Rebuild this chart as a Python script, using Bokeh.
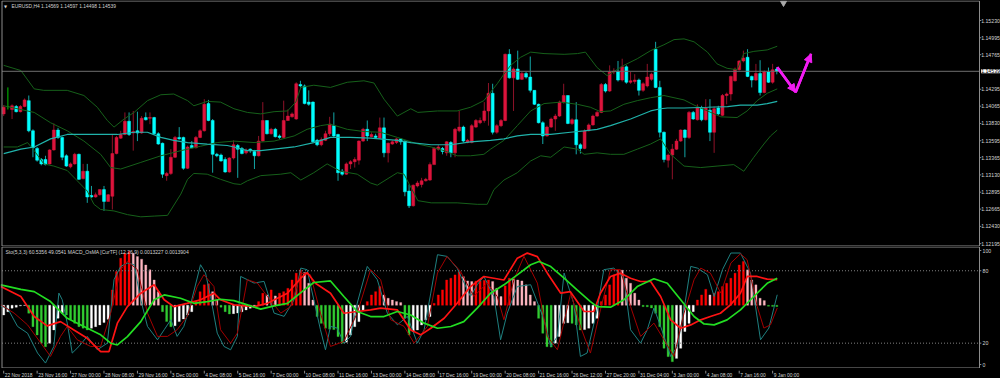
from bokeh.plotting import figure
from bokeh.models import (Range1d, Label, Arrow, NormalHead, ColumnDataSource)
from bokeh.layouts import column
from bokeh.embed import file_html
from bokeh.resources import INLINE
from bokeh.core.properties import value

# ---------------- data (EURUSD H4) ----------------
open_ = [1.1396, 1.1406, 1.1402, 1.1406, 1.1399, 1.1406, 1.1414, 1.1373, 1.1349, 1.1334,
         1.1334, 1.1328, 1.1347, 1.1374, 1.1364, 1.1339, 1.1324, 1.1328, 1.1341, 1.1308,
         1.1318, 1.1285, 1.1283, 1.1286, 1.1293, 1.1277, 1.1284, 1.1342, 1.1363, 1.1368,
         1.1386, 1.1370, 1.1373, 1.1370, 1.1391, 1.1390, 1.1391, 1.1369, 1.1356, 1.1312,
         1.1315, 1.1337, 1.1364, 1.1364, 1.1322, 1.1353, 1.1350, 1.1364, 1.1373, 1.1410,
         1.1387, 1.1341, 1.1340, 1.1334, 1.1317, 1.1336, 1.1353, 1.1349, 1.1343, 1.1348,
         1.1345, 1.1339, 1.1359, 1.1387, 1.1369, 1.1375, 1.1366, 1.1364, 1.1387, 1.1392,
         1.1389, 1.1436, 1.1434, 1.1412, 1.1412, 1.1360, 1.1354, 1.1360, 1.1369, 1.1380,
         1.1368, 1.1318, 1.1314, 1.1328, 1.1331, 1.1333, 1.1359, 1.1375, 1.1365, 1.1366,
         1.1363, 1.1377, 1.1343, 1.1355, 1.1357, 1.1362, 1.1359, 1.1291, 1.1271, 1.1298,
         1.1300, 1.1305, 1.1306, 1.1327, 1.1348, 1.1349, 1.1343, 1.1357, 1.1343, 1.1373,
         1.1378, 1.1357, 1.1357, 1.1378, 1.1384, 1.1387, 1.1400, 1.1424, 1.1371, 1.1380,
         1.1387, 1.1477, 1.1445, 1.1457, 1.1443, 1.1451, 1.1446, 1.1428, 1.1409, 1.1384,
         1.1366, 1.1378, 1.1389, 1.1393, 1.1412, 1.1421, 1.1383, 1.1388, 1.1354, 1.1349,
         1.1373, 1.1381, 1.1393, 1.1398, 1.1436, 1.1427, 1.1453, 1.1454, 1.1442, 1.1460,
         1.1439, 1.1440, 1.1442, 1.1428, 1.1434, 1.1443, 1.1484, 1.1432, 1.1371, 1.1333,
         1.1340, 1.1348, 1.1359, 1.1374, 1.1364, 1.1398, 1.1388, 1.1404, 1.1388, 1.1401,
         1.1371, 1.1404, 1.1394, 1.1421, 1.1423, 1.1441, 1.1456, 1.1468, 1.1473, 1.1447,
         1.1442, 1.1451, 1.1425, 1.1453, 1.1439, 1.14569]
high = [1.1408, 1.1432, 1.1409, 1.1408, 1.1408, 1.1417, 1.1421, 1.1375, 1.1351, 1.1336,
        1.1339, 1.1348, 1.1383, 1.1377, 1.1365, 1.1341, 1.1330, 1.1343, 1.1342, 1.1328,
        1.1328, 1.1298, 1.1289, 1.1293, 1.1298, 1.1287, 1.1368, 1.1366, 1.1373, 1.1398,
        1.1398, 1.1400, 1.1399, 1.1393, 1.1398, 1.1398, 1.1392, 1.1371, 1.1357, 1.1317,
        1.1348, 1.1366, 1.1378, 1.1365, 1.1353, 1.1359, 1.1366, 1.1375, 1.1416, 1.1415,
        1.1389, 1.1343, 1.1342, 1.1337, 1.1337, 1.1360, 1.1355, 1.1351, 1.1349, 1.1349,
        1.1347, 1.1366, 1.1412, 1.1387, 1.1377, 1.1377, 1.1368, 1.1414, 1.1402, 1.1398,
        1.1439, 1.1441, 1.1436, 1.1428, 1.1413, 1.1362, 1.1364, 1.1373, 1.1392, 1.1398,
        1.1369, 1.1321, 1.1330, 1.1333, 1.1337, 1.1360, 1.1377, 1.1387, 1.1371, 1.1369,
        1.1391, 1.1391, 1.1357, 1.1360, 1.1363, 1.1363, 1.1360, 1.1300, 1.1300, 1.1305,
        1.1309, 1.1309, 1.1330, 1.1351, 1.1354, 1.1351, 1.1359, 1.1359, 1.1377, 1.1400,
        1.1380, 1.1362, 1.1382, 1.1389, 1.1391, 1.1412, 1.1438, 1.1437, 1.1382, 1.1389,
        1.1478, 1.1484, 1.1459, 1.1482, 1.1453, 1.1453, 1.1474, 1.1428, 1.1410, 1.1386,
        1.1380, 1.1391, 1.1396, 1.1414, 1.1437, 1.1421, 1.1390, 1.1412, 1.1356, 1.1375,
        1.1383, 1.1395, 1.1400, 1.1438, 1.1438, 1.1462, 1.1458, 1.1468, 1.1471, 1.1462,
        1.1453, 1.1450, 1.1444, 1.1439, 1.1464, 1.1452, 1.1494, 1.1441, 1.1372, 1.1342,
        1.1355, 1.1362, 1.1375, 1.1375, 1.1400, 1.1400, 1.1409, 1.1407, 1.1416, 1.1416,
        1.1406, 1.1407, 1.1423, 1.1425, 1.1448, 1.1459, 1.1469, 1.1482, 1.1484, 1.1448,
        1.1464, 1.1469, 1.1455, 1.1459, 1.1464, 1.14597]
low = [1.1393, 1.1402, 1.1389, 1.1398, 1.1398, 1.1405, 1.1371, 1.1337, 1.1331, 1.1326,
       1.1326, 1.1327, 1.1346, 1.1362, 1.1333, 1.1324, 1.1322, 1.1327, 1.1306, 1.1307,
       1.1275, 1.1282, 1.1282, 1.1285, 1.1264, 1.1277, 1.1266, 1.1341, 1.1362, 1.1367,
       1.1366, 1.1346, 1.1359, 1.1369, 1.1387, 1.1382, 1.1368, 1.1354, 1.1309, 1.1305,
       1.1313, 1.1336, 1.1361, 1.1320, 1.1321, 1.1349, 1.1349, 1.1363, 1.1372, 1.1386,
       1.1316, 1.1337, 1.1331, 1.1316, 1.1316, 1.1334, 1.1309, 1.1341, 1.1341, 1.1343,
       1.1321, 1.1338, 1.1358, 1.1368, 1.1368, 1.1364, 1.1362, 1.1363, 1.1387, 1.1391,
       1.1388, 1.1432, 1.1409, 1.1407, 1.1357, 1.1352, 1.1352, 1.1359, 1.1366, 1.1364,
       1.1305, 1.1312, 1.1313, 1.1321, 1.1323, 1.1327, 1.1358, 1.1359, 1.1364, 1.1362,
       1.1362, 1.1337, 1.1330, 1.1354, 1.1355, 1.1354, 1.1284, 1.1268, 1.1270, 1.1296,
       1.1296, 1.1304, 1.1305, 1.1327, 1.1346, 1.1341, 1.1339, 1.1337, 1.1337, 1.1371,
       1.1357, 1.1356, 1.1356, 1.1377, 1.1382, 1.1384, 1.1380, 1.1368, 1.1369, 1.1378,
       1.1386, 1.1444, 1.1400, 1.1442, 1.1442, 1.1444, 1.1425, 1.1408, 1.1383, 1.1355,
       1.1365, 1.1377, 1.1373, 1.1392, 1.1410, 1.1382, 1.1381, 1.1341, 1.1342, 1.1348,
       1.1372, 1.1380, 1.1392, 1.1397, 1.1425, 1.1426, 1.1450, 1.1440, 1.1440, 1.1437,
       1.1437, 1.1437, 1.1421, 1.1426, 1.1432, 1.1441, 1.1431, 1.1364, 1.1330, 1.1323,
       1.1307, 1.1347, 1.1358, 1.1337, 1.1362, 1.1388, 1.1387, 1.1386, 1.1387, 1.1359,
       1.1343, 1.1394, 1.1393, 1.1409, 1.1414, 1.1440, 1.1455, 1.1466, 1.1446, 1.1432,
       1.1441, 1.1421, 1.1424, 1.1438, 1.1437, 1.14498]
close = [1.1405, 1.1406, 1.1407, 1.1399, 1.1406, 1.1415, 1.1373, 1.1350, 1.1333, 1.1328,
         1.1327, 1.1347, 1.1374, 1.1364, 1.1337, 1.1325, 1.1328, 1.1341, 1.1307, 1.1318,
         1.1283, 1.1283, 1.1286, 1.1293, 1.1277, 1.1286, 1.1342, 1.1364, 1.1368, 1.1386,
         1.1368, 1.1372, 1.1370, 1.1390, 1.1388, 1.1391, 1.1369, 1.1355, 1.1314, 1.1315,
         1.1337, 1.1364, 1.1362, 1.1322, 1.1351, 1.1350, 1.1364, 1.1373, 1.1409, 1.1387,
         1.1341, 1.1339, 1.1332, 1.1317, 1.1336, 1.1354, 1.1348, 1.1342, 1.1347, 1.1346,
         1.1339, 1.1359, 1.1387, 1.1369, 1.1375, 1.1365, 1.1364, 1.1387, 1.1393, 1.1396,
         1.1437, 1.1434, 1.1410, 1.1409, 1.1358, 1.1354, 1.1361, 1.1369, 1.1382, 1.1366,
         1.1316, 1.1314, 1.1328, 1.1331, 1.1334, 1.1359, 1.1375, 1.1366, 1.1368, 1.1364,
         1.1377, 1.1343, 1.1356, 1.1358, 1.1362, 1.1358, 1.1290, 1.1271, 1.1299, 1.1302,
         1.1305, 1.1307, 1.1327, 1.1349, 1.1351, 1.1345, 1.1358, 1.1343, 1.1375, 1.1378,
         1.1359, 1.1360, 1.1380, 1.1387, 1.1387, 1.1400, 1.1424, 1.1371, 1.1380, 1.1387,
         1.1477, 1.1445, 1.1457, 1.1443, 1.1451, 1.1446, 1.1428, 1.1409, 1.1384, 1.1366,
         1.1378, 1.1389, 1.1393, 1.1412, 1.1421, 1.1383, 1.1388, 1.1354, 1.1349, 1.1373,
         1.1381, 1.1393, 1.1398, 1.1436, 1.1427, 1.1453, 1.1454, 1.1442, 1.1460, 1.1439,
         1.1441, 1.1442, 1.1428, 1.1437, 1.1446, 1.1450, 1.1432, 1.1371, 1.1334, 1.1340,
         1.1348, 1.1359, 1.1374, 1.1364, 1.1398, 1.1389, 1.1404, 1.1388, 1.1404, 1.1371,
         1.1403, 1.1396, 1.1421, 1.1423, 1.1447, 1.1457, 1.1468, 1.1472, 1.1447, 1.1442,
         1.1451, 1.1425, 1.1453, 1.1439, 1.1456, 1.14539]

# Bollinger bands and moving average, read at sample bars
bb_up_x = [0, 4.1, 7.3, 9.6, 15.2, 19.2, 22.4, 24.8, 26.4, 28.8, 31.2, 34.4, 37.6, 40.7, 44.0,
           45.5, 48.7, 51.9, 55.1, 58.3, 61.5, 64.7, 67.9, 69.9, 71.1, 74.2, 78.2, 82.2, 86.2,
           88.6, 91.0, 94.2, 97.4, 99.1, 103.8, 108.5, 111.7, 114.9, 118.1, 119.7, 121.3, 123.7,
           126.1, 129.3, 134.1, 137.3, 139.2, 142.0, 144.4, 148.4, 151.6, 154.8, 158.0, 160.4,
           162.8, 165.2, 168.4, 170.7, 173.1, 175.5, 177.1, 179.5, 182.7, 185.1]
bb_up = [1.1462, 1.1455, 1.1430, 1.1428, 1.1428, 1.1421, 1.1405, 1.1387, 1.1378, 1.1389,
         1.1398, 1.1414, 1.1422, 1.1423, 1.1414, 1.1407, 1.1413, 1.1412, 1.1403, 1.1398,
         1.1396, 1.1399, 1.1400, 1.1412, 1.1432, 1.1435, 1.1432, 1.1439, 1.1441, 1.1438,
         1.1416, 1.1393, 1.1403, 1.1398, 1.1400, 1.1400, 1.1405, 1.1414, 1.1437, 1.1450,
         1.1462, 1.1473, 1.1480, 1.1478, 1.1477, 1.1478, 1.1480, 1.1459, 1.1448, 1.1462,
         1.1471, 1.1482, 1.1490, 1.1497, 1.1498, 1.1494, 1.1480, 1.1464, 1.1458, 1.1456,
         1.1478, 1.1481, 1.1483, 1.1488]
bb_mid_x = [0, 7.3, 11.2, 15.2, 19.2, 23.2, 25.6, 28.0, 32.8, 37.6, 42.4, 47.1, 51.1, 55.1,
            59.9, 64.7, 69.5, 72.6, 75.8, 78.2, 82.2, 86.2, 90.2, 94.2, 99.1, 102.3, 105.4,
            108.5, 111.7, 114.9, 116.5, 119.7, 122.9, 126.1, 129.3, 133.3, 137.3, 140.4, 142.8,
            145.2, 148.4, 151.6, 154.8, 158.0, 160.4, 162.8, 165.2, 168.4, 171.6, 175.5, 177.9,
            180.3, 182.7, 185.1]
bb_mid = [1.1407, 1.1398, 1.1384, 1.1373, 1.1359, 1.1341, 1.1323, 1.1321, 1.1330, 1.1339,
          1.1346, 1.1352, 1.1357, 1.1359, 1.1357, 1.1359, 1.1366, 1.1375, 1.1380, 1.1382,
          1.1375, 1.1372, 1.1371, 1.1364, 1.1355, 1.1351, 1.1346, 1.1339, 1.1339, 1.1341,
          1.1348, 1.1360, 1.1380, 1.1400, 1.1410, 1.1412, 1.1409, 1.1405, 1.1399, 1.1400,
          1.1409, 1.1414, 1.1418, 1.1421, 1.1418, 1.1415, 1.1408, 1.1400, 1.1392, 1.1391,
          1.1400, 1.1414, 1.1424, 1.1430]
bb_lo_x = [0, 3.3, 5.7, 7.3, 9.6, 12.0, 15.2, 17.6, 20.0, 21.6, 23.2, 26.4, 29.6, 32.8, 36.0,
           39.2, 42.4, 44.0, 45.5, 48.7, 51.9, 55.1, 56.7, 58.3, 61.5, 66.3, 68.7, 71.1, 74.2,
           77.4, 80.6, 84.6, 87.8, 89.4, 94.2, 95.8, 99.1, 102.3, 108.5, 113.3, 115.7, 117.3,
           119.7, 122.9, 126.1, 128.5, 130.9, 134.1, 137.3, 138.9, 142.0, 145.2, 148.4, 151.6,
           154.8, 157.2, 159.6, 162.8, 166.8, 170.7, 174.7, 177.1, 179.5, 181.9, 183.5, 185.1]
bb_lo = [1.1351, 1.1351, 1.1357, 1.1346, 1.1328, 1.1325, 1.1319, 1.1305, 1.1291, 1.1273,
         1.1266, 1.1264, 1.1259, 1.1256, 1.1257, 1.1258, 1.1287, 1.1307, 1.1315, 1.1314,
         1.1307, 1.1301, 1.1300, 1.1305, 1.1312, 1.1314, 1.1316, 1.1306, 1.1316, 1.1328,
         1.1318, 1.1314, 1.1302, 1.1299, 1.1316, 1.1314, 1.1278, 1.1275, 1.1275, 1.1273,
         1.1273, 1.1293, 1.1306, 1.1316, 1.1332, 1.1339, 1.1337, 1.1351, 1.1348, 1.1341,
         1.1343, 1.1341, 1.1341, 1.1348, 1.1355, 1.1362, 1.1341, 1.1325, 1.1323, 1.1325,
         1.1327, 1.1318, 1.1337, 1.1355, 1.1366, 1.1374]
ma_x = [0, 4.1, 7.3, 11.2, 15.2, 19.2, 23.2, 27.2, 31.2, 34.4, 37.6, 40.7, 44.0, 48.7, 53.5,
        55.1, 58.3, 61.5, 64.7, 69.5, 74.2, 78.2, 82.9, 87.8, 94.2, 97.4, 102.3, 107.0, 111.7,
        116.5, 119.7, 122.9, 126.1, 130.9, 135.6, 138.9, 142.0, 145.2, 150.0, 154.8, 157.2,
        158.8, 162.8, 168.4, 173.2, 176.3, 180.3, 182.7, 185.1]
ma = [1.1342, 1.1348, 1.1351, 1.1362, 1.1368, 1.1368, 1.1368, 1.1368, 1.1371, 1.1371,
      1.1364, 1.1360, 1.1357, 1.1355, 1.1353, 1.1351, 1.1346, 1.1346, 1.1348, 1.1351,
      1.1357, 1.1364, 1.1364, 1.1363, 1.1360, 1.1357, 1.1354, 1.1354, 1.1358, 1.1360,
      1.1362, 1.1366, 1.1368, 1.1368, 1.1371, 1.1373, 1.1375, 1.1380, 1.1389, 1.1400,
      1.1403, 1.1404, 1.1404, 1.1405, 1.1406, 1.1408, 1.1408, 1.1410, 1.1413]

# MACD_OsMA (12,26,9), in pips (1e-4)
osma_pips = [-5.0, -3.3, -1.5, -1.0, -0.3, -0.1, -4.1, -11.0, -15.3, -19.5,
             -21.3, -19.5, -12.7, -6.7, -4.1, -5.0, -7.5, -9.3, -11.0, -11.8,
             -12.7, -11.8, -11.0, -10.1, -8.9, -7.2, 7.9, 17.3, 24.2, 26.7,
             27.6, 26.7, 25.0, 23.7, 20.7, 18.2, 13.0, 7.0, -3.3, -8.4,
             -11.0, -10.5, -8.4, -7.0, -5.0, -3.3, 1.9, 7.0, 10.5, 11.0,
             7.0, 2.7, -1.0, -3.3, -4.5, -4.3, -4.0, -3.3, -2.4, -1.5,
             -1.0, 1.9, 6.2, 5.3, 7.9, 4.8, 6.2, 7.0, 8.7, 13.0,
             16.5, 18.2, 16.8, 11.3, 2.7, -5.8, -9.3, -11.8, -12.3, -12.5,
             -16.1, -19.5, -19.0, -15.3, -11.0, -8.4, -2.4, 1.9, 5.3, 7.0,
             9.6, 5.3, 3.6, 2.7, 1.9, 1.4, -6.7, -15.3, -13.5, -12.7,
             -10.1, -7.5, -5.8, 1.0, 5.3, 7.9, 13.0, 13.9, 15.6, 17.3,
             14.7, 12.5, 12.2, 12.4, 12.6, 12.8, 13.0, 12.2, 8.7, 4.5,
             10.0, 13.9, 13.5, 13.0, 12.5, 10.5, 5.3, 1.9, -6.7, -14.4,
             -21.3, -21.5, -19.5, -16.1, -9.3, -9.0, -9.3, -10.1, -12.7, -12.5,
             -11.8, -9.3, -6.7, 1.9, 5.3, 10.5, 15.6, 18.2, 18.0, 13.9,
             11.3, 6.2, 2.7, -0.7, -0.8, -1.4, -4.1, -11.0, -22.1, -26.4,
             -29.0, -27.3, -22.1, -13.5, -9.3, -3.3, 2.7, 5.3, 8.2, 5.3,
             6.2, 7.0, 9.6, 11.3, 13.9, 16.5, 20.7, 22.5, 18.2, 13.0,
             10.5, 3.6, 2.4, -0.5, -0.6, -0.7]
macd_x = [-0.7, 4.1, 7.3, 10.4, 13.6, 16.8, 20.0, 23.2, 25.2, 27.2,
          29.6, 32.8, 36.0, 38.4, 40.7, 43.9, 47.1, 50.3, 51.9, 55.1,
          59.9, 63.1, 67.9, 71.1, 72.6, 74.6, 78.2, 81.4, 84.6, 87.8,
          90.2, 94.2, 97.4, 99.8, 102.2, 105.4, 108.5, 111.7, 114.9, 117.3,
          119.7, 122.9, 125.3, 127.7, 130.1, 133.3, 135.6, 138.9, 141.2, 142.8,
          145.2, 147.6, 150.0, 152.4, 154.8, 157.2, 159.6, 162.0, 164.4, 166.8,
          169.1, 171.5, 173.9, 176.3, 177.9, 180.3, 182.7, 185.1]
macd_pips = [9.6, 4.5, -5.8, -10.6, -8.4, -12.7, -17.0, -23.8, -23.8, -9.2,
             -0.7, 6.2, 10.5, 2.8, -0.7, 1.0, 2.8, 6.2, 2.8, 0.2,
             -0.7, 1.0, 6.2, 13.9, 16.8, 11.3, 6.2, -4.1, -3.2, -2.4,
             -1.5, -2.4, -12.7, -15.2, -11.8, -6.7, 1.0, 9.6, 14.8, 13.9,
             13.0, 24.2, 26.8, 25.0, 16.5, 6.2, 7.0, -3.2, -3.2, 6.2,
             14.8, 16.5, 13.9, 12.2, 12.2, 4.5, -7.5, -11.8, -10.1, -7.5,
             -5.8, -4.1, 0.2, 6.2, 14.8, 14.8, 13.4, 13.2]
sig_x = [-0.7, 4.1, 7.3, 11.2, 15.2, 19.2, 23.2, 25.6, 27.2, 29.6,
         32.8, 36.0, 38.4, 42.3, 45.5, 48.7, 51.9, 55.1, 58.3, 61.5,
         64.7, 67.9, 71.1, 74.2, 78.2, 81.4, 84.6, 87.8, 91.0, 94.2,
         97.4, 100.6, 103.8, 107.0, 110.1, 113.3, 116.5, 119.7, 122.9, 126.1,
         128.1, 130.9, 134.1, 137.2, 140.4, 142.0, 145.2, 148.4, 151.6, 155.6,
         158.8, 162.0, 165.2, 167.6, 170.0, 173.1, 176.3, 179.5, 182.7, 185.1]
sig_pips = [10.5, 8.2, 7.0, 1.9, -6.7, -10.9, -15.2, -19.5, -20.4, -16.1,
            -8.4, 2.8, 5.3, 3.6, 1.0, 1.9, 3.1, 2.4, 0.2, -2.0,
            -0.3, 1.0, 6.5, 11.7, 12.5, 4.5, -3.2, -5.8, -5.8, -3.2,
            -5.0, -9.2, -11.8, -10.9, -8.4, -1.5, 6.2, 10.5, 15.6, 20.8,
            22.5, 19.9, 13.9, 7.9, 1.9, -0.7, -1.0, 2.8, 9.6, 13.6,
            11.3, 2.8, -5.8, -9.6, -10.1, -7.5, -2.4, 4.5, 11.3, 13.9]

# Stochastic (5,3,3)
stk_x = [-0.7, 0.9, 3.3, 5.7, 8.1, 10.0, 12.0, 13.2, 14.0, 15.2,
         16.4, 18.0, 20.0, 22.4, 24.8, 26.4, 28.0, 29.6, 31.2, 32.8,
         34.4, 36.8, 38.4, 40.0, 41.5, 43.1, 44.7, 47.1, 48.3, 49.5,
         51.1, 52.7, 54.3, 55.9, 56.7, 58.3, 59.9, 62.3, 64.7, 67.1,
         69.5, 71.1, 72.6, 74.2, 75.8, 77.0, 78.2, 79.8, 81.4, 83.0,
         84.6, 87.0, 89.4, 91.8, 94.2, 96.6, 99.0, 100.6, 102.2, 103.8,
         106.1, 108.5, 111.7, 113.3, 114.9, 117.3, 118.9, 120.5, 122.9, 126.1,
         129.3, 130.9, 132.5, 134.1, 136.4, 138.0, 139.6, 142.0, 143.6, 146.0,
         148.4, 150.0, 152.4, 154.0, 155.6, 157.2, 159.6, 161.2, 162.8, 164.4,
         166.0, 168.4, 170.0, 172.0, 174.0, 176.3, 178.7, 181.1, 183.1, 185.1]
stk = [50.4, 49.1, 33.9, 28.3, 11.8, 3.5, 17.3, 61.5, 56.0, 36.6,
       11.8, 17.3, 25.6, 14.5, 20.0, 72.6, 83.6, 86.4, 85.0, 56.0,
       33.9, 22.8, 31.1, 39.4, 25.6, 33.9, 51.8, 85.0, 78.1, 58.7,
       28.3, 17.3, 14.5, 25.6, 75.3, 72.6, 69.8, 71.2, 44.9, 42.2,
       56.0, 82.2, 80.9, 56.0, 31.1, 14.5, 33.9, 32.5, 20.0, 25.6,
       53.2, 83.6, 72.6, 44.9, 35.2, 42.2, 20.0, 31.1, 61.5, 93.3,
       91.9, 82.2, 58.7, 68.4, 75.3, 58.7, 22.8, 44.9, 67.0, 68.4,
       39.4, 17.3, 25.6, 78.1, 53.2, 9.0, 11.8, 47.7, 80.9, 82.2,
       73.9, 31.1, 20.0, 31.1, 49.1, 33.9, 9.0, 17.3, 47.7, 83.6,
       82.2, 76.7, 58.7, 80.9, 94.7, 94.7, 78.1, 22.8, 32.5, 60.1]
std_x = [-0.7, 2.5, 5.7, 8.9, 11.2, 13.6, 15.2, 17.6, 20.8, 23.2,
         25.6, 28.0, 29.6, 32.0, 34.4, 36.8, 39.2, 41.5, 43.9, 46.3,
         47.9, 50.3, 51.9, 54.3, 55.9, 58.3, 60.7, 63.1, 66.3, 68.7,
         71.1, 73.4, 75.8, 78.2, 81.4, 84.6, 87.8, 90.2, 92.6, 95.8,
         98.2, 101.4, 103.8, 106.1, 109.3, 112.5, 115.7, 118.1, 119.7, 122.1,
         124.5, 127.7, 130.1, 132.5, 135.7, 138.0, 140.4, 142.8, 145.2, 147.6,
         150.0, 152.4, 155.6, 158.0, 160.4, 162.8, 165.2, 166.8, 169.1, 171.6,
         174.0, 176.3, 177.9, 180.3, 181.9, 183.5, 185.1]
std = [51.8, 44.9, 35.2, 20.0, 9.0, 25.6, 33.9, 22.8, 17.3, 17.3,
       44.9, 80.9, 87.8, 80.9, 44.9, 25.6, 25.6, 31.1, 42.2, 67.0,
       76.7, 67.0, 31.1, 20.0, 28.3, 72.6, 69.8, 58.7, 44.9, 50.4,
       78.1, 76.7, 44.9, 17.3, 21.4, 44.9, 80.9, 72.6, 39.4, 33.9,
       20.0, 33.9, 78.1, 91.9, 79.5, 58.7, 69.8, 58.7, 39.4, 72.6,
       91.9, 69.8, 25.6, 14.5, 61.5, 33.9, 11.8, 47.7, 80.9, 80.9,
       50.4, 25.6, 36.6, 22.8, 9.0, 44.9, 72.6, 82.2, 78.1, 61.5,
       86.4, 94.1, 89.1, 50.4, 32.5, 35.2, 49.1]
stoch_levels = [20, 80]
sub_ticks = [100, 80, 20, 0]

price_ticks = [1.15230, 1.14995, 1.14765, 1.14295, 1.14065, 1.13830, 1.13595,
               1.13365, 1.13130, 1.12895, 1.12665, 1.12430, 1.12195]
time_tick_bars = [0, 8, 16, 24, 32, 40, 48, 56, 64, 72, 80, 88, 96, 104, 112, 120,
                  128, 136, 144, 152, 160, 168, 176, 184]
time_labels = ["22 Nov 2018", "23 Nov 16:00", "27 Nov 00:00", "28 Nov 08:00", "29 Nov 16:00",
               "3 Dec 00:00", "4 Dec 08:00", "5 Dec 16:00", "7 Dec 00:00", "10 Dec 08:00",
               "11 Dec 16:00", "13 Dec 00:00", "14 Dec 08:00", "17 Dec 16:00", "19 Dec 00:00",
               "20 Dec 08:00", "21 Dec 16:00", "26 Dec 12:00", "27 Dec 20:00", "31 Dec 04:00",
               "3 Jan 00:00", "4 Jan 08:00", "7 Jan 16:00", "9 Jan 00:00"]
arrow_x = [185.1, 189.5, 193.2]
arrow_y = [1.14595, 1.14255, 1.14777]
shift_marker_x = [186.6]
main_title = "EURUSD,H4  1.14569 1.14597 1.14498 1.14539"
sub_title = "Sto(5,3,3) 60.5356 49.0541  MACD_OsMA [CurTF] (12,26,9) 0.0013227 0.0013904"

# ---------------- style / layout ----------------
FONT = "Liberation Sans"
FRAME = "#8C8C8C"
TXT = "#D4D4D4"
BULL, BULL_WICK = "#DC143C", "#8E1228"
BEAR, BEAR_WICK = "#00FFFF", "#13A6A6"
DOJI = "#00C800"
BAND = "#16601A"
MA_COL = "#20B2AA"
MAG = "#F21CF2"

W = 1000                    # page width (px)
H1, H2, H3 = 246, 122, 10   # main panel, sub panel, time strip heights (px)
BAR_PX, X0_PX = 4.179, 3.2  # bar spacing and position of bar 0 (px)
P_TOP, P_PX = 1.15502, 0.0001360   # price at top of main panel, price per px
S_TOP, S_PX = 100.1, 1.2067        # stochastic value at top of sub panel, px per unit
M_TOP, M_BOT = 30.2, -32.5         # MACD pips at top / bottom of sub panel
CHART_L, CHART_R = 1.5, 979.0      # chart box edges (px)
LABEL_R = 999.4                    # right edge for scale labels (px)


def xd(px):
    return (px - X0_PX) / BAR_PX


def yp(py):
    return P_TOP - py * P_PX


def ys(py):
    return S_TOP - py / S_PX


XR = Range1d(xd(0), xd(W))


def panel(h, yr):
    f = figure(frame_width=W, frame_height=h, x_range=XR, y_range=yr,
               x_axis_location=None, y_axis_location=None,
               output_backend="svg", toolbar_location=None,
               min_border_left=0, min_border_right=0, min_border_top=0, min_border_bottom=0,
               background_fill_color="black", border_fill_color="black",
               outline_line_color=None)
    f.grid.visible = False
    return f


# ---------------- main panel ----------------
p1 = panel(H1, Range1d(yp(H1), yp(0)))

n = len(close)
idx = list(range(n))
body_col = [BULL if c > o else (BEAR if c < o else DOJI) for o, c in zip(open_, close)]
wick_col = [BULL_WICK if c > o else (BEAR_WICK if c < o else DOJI) for o, c in zip(open_, close)]
src = ColumnDataSource(dict(x=idx, h=high, l=low,
                            top=[max(o, c) for o, c in zip(open_, close)],
                            bot=[min(o, c) for o, c in zip(open_, close)],
                            bc=body_col, wc=wick_col))
p1.segment(x0="x", y0="l", x1="x", y1="h", line_color="wc", line_width=1, source=src)
p1.vbar(x="x", width=0.7, top="top", bottom="bot", fill_color="bc", line_color="bc",
        line_width=0.5, source=src)

p1.line(bb_up_x, bb_up, line_color=BAND, line_width=1)
p1.line(bb_mid_x, bb_mid, line_color=BAND, line_width=1)
p1.line(bb_lo_x, bb_lo, line_color=BAND, line_width=1)
p1.line(ma_x, ma, line_color=MA_COL, line_width=1.2)

# bid line
p1.segment(x0=[xd(CHART_L)], x1=[xd(CHART_R)], y0=[close[-1]], y1=[close[-1]],
           line_color="#6E6E6E", line_width=1)

# forecast arrow
p1.line(arrow_x, arrow_y, line_color=MAG, line_width=2.6)
for k in range(2):
    p1.add_layout(Arrow(end=NormalHead(size=8, fill_color=MAG, line_color=MAG),
                        x_start=arrow_x[k], y_start=arrow_y[k],
                        x_end=arrow_x[k + 1], y_end=arrow_y[k + 1],
                        line_color=MAG, line_width=2.6))

# chart box
p1.quad(left=[xd(CHART_L)], right=[xd(CHART_R)], top=[yp(0.5)], bottom=[yp(H1 - 0.5)],
        fill_alpha=0, line_color=FRAME, line_width=1)
p1.scatter(x=shift_marker_x, y=[yp(2.5)], marker="inverted_triangle", size=6,
           fill_color="#A8A8A8", line_color="#A8A8A8")

# price scale
p1.segment(x0=[xd(CHART_R)] * len(price_ticks), x1=[xd(CHART_R + 1.8)] * len(price_ticks),
           y0=price_ticks, y1=price_ticks, line_color=FRAME, line_width=1)
p1.text(x=[xd(LABEL_R)] * len(price_ticks), y=price_ticks,
        text=["%.5f" % t for t in price_ticks], text_align="right", text_baseline="middle",
        text_font=value(FONT), text_font_size="5.2px", text_color=TXT)
p1.add_layout(Label(x=xd(LABEL_R), y=close[-1], text="%.5f" % close[-1],
                    text_font=FONT, text_font_size="5.2px", text_color="black",
                    text_align="right", text_baseline="middle",
                    background_fill_color="white"))

p1.add_layout(Label(x=xd(5), y=yp(6), text="\u25bc", text_align="center",
                    text_font="DejaVu Sans", text_font_size="4px", text_color=TXT,
                    text_baseline="middle"))
p1.add_layout(Label(x=xd(11), y=yp(6), text=main_title,
                    text_font=FONT, text_font_size="4.9px", text_color=TXT,
                    text_baseline="middle"))

# ---------------- sub panel ----------------
p2 = panel(H2, Range1d(ys(H2), ys(0)))
p2.extra_y_ranges = {"macd": Range1d(M_BOT, M_TOP)}

hist_col = []
prev = None
for v in osma_pips:
    rising = prev is None or v >= prev
    if v >= 0:
        hist_col.append("#FF0000" if rising else "#FFB6C1")
    else:
        hist_col.append("#FFFFFF" if rising else "#32CD32")
    prev = v
hsrc = ColumnDataSource(dict(x=idx, top=[max(v, 0) for v in osma_pips],
                             bot=[min(v, 0) for v in osma_pips], c=hist_col))
p2.vbar(x="x", width=0.5, top="top", bottom="bot", fill_color="c", line_color="c",
        line_width=0.3, source=hsrc, y_range_name="macd")

p2.segment(x0=[xd(CHART_L)] * 2, x1=[xd(CHART_R)] * 2, y0=stoch_levels, y1=stoch_levels,
           line_color="#808080", line_dash="1 2", line_width=1)

p2.line(stk_x, stk, line_color="#1F8080", line_width=1)
p2.line(std_x, std, line_color="#A30000", line_width=1)
p2.line(macd_x, macd_pips, line_color="#FF1414", line_width=1.7, y_range_name="macd")
p2.line(sig_x, sig_pips, line_color="#22DD22", line_width=1.7, y_range_name="macd")

p2.quad(left=[xd(CHART_L)], right=[xd(CHART_R)], top=[ys(0.5)], bottom=[ys(H2 - 0.5)],
        fill_alpha=0, line_color=FRAME, line_width=1)

sub_label_y = [min(max(v, ys(H2 - 4)), ys(4)) for v in sub_ticks]
p2.segment(x0=[xd(CHART_R)] * len(sub_ticks), x1=[xd(CHART_R + 1.8)] * len(sub_ticks),
           y0=sub_label_y, y1=sub_label_y, line_color=FRAME, line_width=1)
p2.text(x=[xd(CHART_R + 3)] * len(sub_ticks), y=sub_label_y, text=[str(v) for v in sub_ticks],
        text_align="left", text_baseline="middle", text_font=value(FONT),
        text_font_size="5.2px", text_color=TXT)

p2.add_layout(Label(x=xd(5), y=ys(5), text=sub_title,
                    text_font=FONT, text_font_size="5px", text_color=TXT,
                    text_baseline="middle"))

# ---------------- time scale strip ----------------
p3 = panel(H3, Range1d(H3, 0))
p3.segment(x0=time_tick_bars, y0=[0] * len(time_tick_bars), x1=time_tick_bars,
           y1=[3] * len(time_tick_bars), line_color=FRAME, line_width=1)
p3.text(x=time_tick_bars, y=[5] * len(time_tick_bars), text=time_labels,
        text_align="left", text_baseline="middle", x_offset=1,
        text_font=value(FONT), text_font_size="4.9px", text_color=TXT)

layout = column(p1, p2, p3, spacing=0)
try:
    from bokeh.models import GlobalInlineStyleSheet
    layout.stylesheets = [GlobalInlineStyleSheet(
        css="html,body{margin:0;padding:0;background:#000000;overflow:hidden;}")]
except Exception:
    pass

open("out.html", "w").write(file_html(layout, INLINE))
